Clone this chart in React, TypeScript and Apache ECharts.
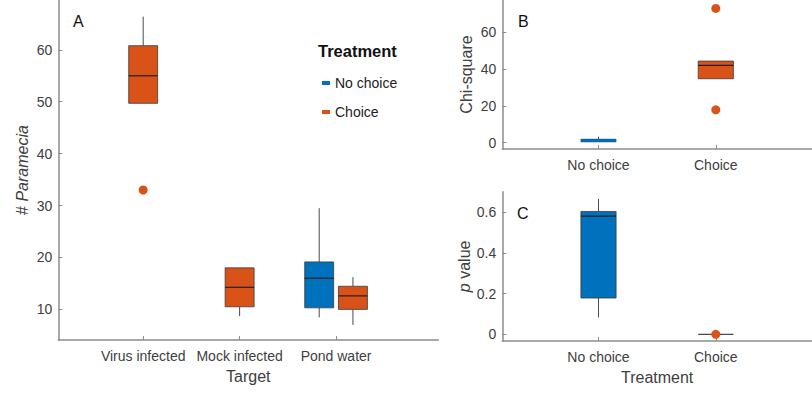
import React, { useEffect, useRef } from 'react';
import * as echarts from 'echarts';

// ---------- data ----------
const targetCategories = ['Virus infected', 'Mock infected', 'Pond water'];
const treatmentCategories = ['No choice', 'Choice'];
// each box: [lower whisker, Q1, median, Q3, upper whisker]; null = no box
const parameciaNoChoice: (number[] | null)[] = [null, null, [8.45, 10.3, 16.0, 19.15, 29.5]];
const parameciaChoice: (number[] | null)[] = [
  [49.7, 49.7, 55.0, 60.8, 66.4],
  [8.7, 10.5, 14.25, 18.0, 18.0],
  [7.0, 10.0, 12.6, 14.45, 16.2],
];
const parameciaChoiceOutliers = [[0, 33.0]]; // [category index, value]
const chiSquareBoxes = [
  [0.2, 0.4, 1.2, 2.0, 3.3],
  [34.8, 34.8, 42.1, 44.4, 44.4],
];
const chiSquareOutliers = [[1, 73.0], [1, 17.9]];
const pValueBoxes = [
  [0.083, 0.178, 0.58, 0.603, 0.665],
  [0, 0, 0, 0, 0],
];
const pValueOutliers = [[1, 0]];
const parameciaTicks = [10, 20, 30, 40, 50, 60];
const chiTicks = [0, 20, 40, 60];
const pTicks = [0, 0.2, 0.4, 0.6];

// ---------- style ----------
const FONT = 'Arial, "Liberation Sans", Helvetica, sans-serif';
const BLUE = '#0072BD';
const ORANGE = '#D95319';
const AXIS = '#8c8c8c';
const TEXT = '#404040';
const GROUP_OFFSET = 0.175;
const BOX_WIDTH = 0.3;

function renderBox(color: string) {
  return (params: any, api: any) => {
    const x = api.value(0);
    const lo = api.coord([x, api.value(1)]);
    const q1 = api.coord([x, api.value(2)]);
    const med = api.coord([x, api.value(3)]);
    const q3 = api.coord([x, api.value(4)]);
    const hi = api.coord([x, api.value(5)]);
    const w = api.size([BOX_WIDTH, 0])[0];
    const cx = q1[0];
    const children: any[] = [];
    const whisker = { stroke: '#4a4a4a', lineWidth: 1 };
    if (hi[1] < q3[1] - 0.5)
      children.push({ type: 'line', shape: { x1: cx, y1: hi[1], x2: cx, y2: q3[1] }, style: whisker });
    if (lo[1] > q1[1] + 0.5)
      children.push({ type: 'line', shape: { x1: cx, y1: q1[1], x2: cx, y2: lo[1] }, style: whisker });
    const h = q1[1] - q3[1];
    if (h < 0.8) {
      children.push({ type: 'line', shape: { x1: cx - w / 2, y1: med[1], x2: cx + w / 2, y2: med[1] }, style: { stroke: '#4a4a4a', lineWidth: 1.2 } });
    } else {
      const small = h < 5;
      children.push({
        type: 'rect',
        shape: { x: cx - w / 2, y: q3[1], width: w, height: h },
        style: { fill: color, stroke: small ? '#2a4a66' : '#3a3a3a', lineWidth: small ? 0.5 : 0.8 },
      });
      if (!small)
        children.push({ type: 'line', shape: { x1: cx - w / 2, y1: med[1], x2: cx + w / 2, y2: med[1] }, style: { stroke: '#1e1e1e', lineWidth: 1.2 } });
    }
    return { type: 'group', children };
  };
}

function axisBase() {
  return {
    axisLine: { onZero: false, lineStyle: { color: AXIS, width: 1.5 } },
    splitLine: { show: false },
    nameTextStyle: { color: TEXT, fontSize: 16, fontFamily: FONT },
  };
}

function xAxisDef(gridIndex: number, min: number, max: number, cats: string[], name: string) {
  const vals = cats.map((_, i) => i + 1);
  return {
    ...axisBase(),
    type: 'value',
    gridIndex,
    min,
    max,
    name,
    nameLocation: 'middle',
    nameGap: 28,
    axisTick: { show: true, inside: true, length: 4, customValues: vals, lineStyle: { color: AXIS } },
    axisLabel: {
      customValues: vals,
      formatter: (v: number) => cats[Math.round(v) - 1] ?? '',
      color: TEXT,
      fontSize: 14,
      fontFamily: FONT,
      margin: 9,
    },
  };
}

function yAxisDef(gridIndex: number, min: number, max: number, ticks: number[], name: string, rich: any) {
  return {
    ...axisBase(),
    type: 'value',
    gridIndex,
    min,
    max,
    name,
    nameLocation: 'middle',
    nameGap: 28,
    nameTextStyle: { color: TEXT, fontSize: 16, fontFamily: FONT, rich },
    axisTick: { show: true, inside: true, length: 4, customValues: ticks, lineStyle: { color: AXIS } },
    axisLabel: { customValues: ticks, color: TEXT, fontSize: 14, fontFamily: FONT, margin: 6 },
  };
}

export default function App() {
  const ref = useRef<HTMLDivElement>(null);
  useEffect(() => {
    if (!ref.current) return;
    const chart = echarts.init(ref.current, null, { renderer: 'svg' });

    // panel A positions
    const aNo: any[] = [];
    const aCh: any[] = [];
    targetCategories.forEach((_, i) => {
      const both = parameciaNoChoice[i] && parameciaChoice[i];
      const off = both ? GROUP_OFFSET : 0;
      if (parameciaNoChoice[i]) aNo.push([i + 1 - off, ...(parameciaNoChoice[i] as number[])]);
      if (parameciaChoice[i]) aCh.push([i + 1 + off, ...(parameciaChoice[i] as number[])]);
    });
    const aOut = parameciaChoiceOutliers.map(([ci, v]) => {
      const both = parameciaNoChoice[ci] && parameciaChoice[ci];
      return [ci + 1 + (both ? GROUP_OFFSET : 0), v];
    });

    const bcData = (boxes: number[][], idx: number) => [[idx + 1, ...boxes[idx]]];
    const outData = (o: number[][]) => o.map(([ci, v]) => [ci + 1, v]);

    const custom = (name: string, color: string, xi: number, data: any[]) => ({
      type: 'custom',
      name,
      xAxisIndex: xi,
      yAxisIndex: xi,
      renderItem: renderBox(color),
      itemStyle: { color },
      encode: { x: 0, y: [1, 2, 3, 4, 5] },
      data,
      clip: false,
    });
    const scatter = (name: string, xi: number, data: any[]) => ({
      type: 'scatter',
      name,
      xAxisIndex: xi,
      yAxisIndex: xi,
      symbol: 'circle',
      symbolSize: 9,
      itemStyle: { color: ORANGE, opacity: 1 },
      data,
    });

    const labelStyle = { fontSize: 16, fontFamily: FONT, fill: '#111' };

    chart.setOption({
      animation: false,
      backgroundColor: '#ffffff',
      grid: [
        { left: 58.3, top: 0, width: 380, height: 340 },
        { left: 502.3, top: 0, width: 317.6, height: 149 },
        { left: 502.3, top: 191.7, width: 317.6, height: 149.3 },
      ],
      xAxis: [
        xAxisDef(0, 0.12, 4.06, targetCategories, 'Target'),
        xAxisDef(1, 0.18, 2.82, treatmentCategories, ''),
        xAxisDef(2, 0.18, 2.82, treatmentCategories, 'Treatment'),
      ],
      yAxis: [
        yAxisDef(0, 4.1, 69.6, parameciaTicks, '{n|# }{i|Paramecia}', {
          n: { fontSize: 16, fontFamily: FONT, color: TEXT },
          i: { fontSize: 16, fontFamily: FONT, color: TEXT, fontStyle: 'italic' },
        }),
        yAxisDef(1, -3.4, 77.6, chiTicks, 'Chi-square', undefined),
        yAxisDef(2, -0.033, 0.7, pTicks, '{i|p} {n|value}', {
          n: { fontSize: 16, fontFamily: FONT, color: TEXT },
          i: { fontSize: 16, fontFamily: FONT, color: TEXT, fontStyle: 'italic' },
        }),
      ],
      legend: {
        orient: 'vertical',
        left: 317,
        top: 71,
        itemWidth: 8,
        itemHeight: 4,
        itemGap: 15,
        data: [
          { name: 'No choice', icon: 'rect', itemStyle: { color: BLUE } },
          { name: 'Choice', icon: 'rect', itemStyle: { color: ORANGE } },
        ],
        textStyle: { color: '#222', fontSize: 14, fontFamily: FONT },
        selectedMode: false,
      },
      graphic: [
        { type: 'text', left: 318, top: 42, style: { text: 'Treatment', fontSize: 16.5, fontWeight: 'bold', fontFamily: FONT, fill: '#111' } },
        { type: 'text', left: 73, top: 13, style: { ...labelStyle, text: 'A' } },
        { type: 'text', left: 518, top: 13, style: { ...labelStyle, text: 'B' } },
        { type: 'text', left: 517, top: 205, style: { ...labelStyle, text: 'C' } },
      ],
      series: [
        custom('No choice', BLUE, 0, aNo),
        custom('Choice', ORANGE, 0, aCh),
        scatter('Choice', 0, aOut),
        custom('No choice', BLUE, 1, bcData(chiSquareBoxes, 0)),
        custom('Choice', ORANGE, 1, bcData(chiSquareBoxes, 1)),
        scatter('Choice', 1, outData(chiSquareOutliers)),
        custom('No choice', BLUE, 2, bcData(pValueBoxes, 0)),
        custom('Choice', ORANGE, 2, bcData(pValueBoxes, 1)),
        scatter('Choice', 2, outData(pValueOutliers)),
      ],
    });
    return () => chart.dispose();
  }, []);
  return (
    <div
      ref={ref}
      style={{ position: 'absolute', left: 0, top: 0, width: 812, height: 406, background: '#fff' }}
    />
  );
}
